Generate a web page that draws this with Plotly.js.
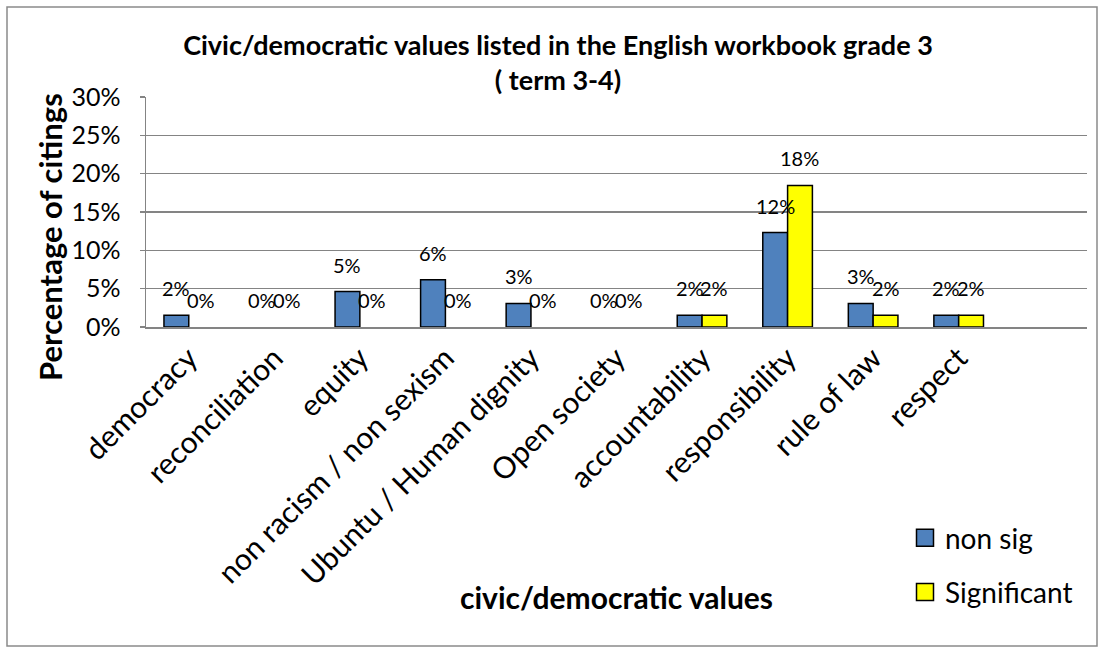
<!DOCTYPE html>
<html>
<head>
<meta charset="utf-8">
<script src="https://cdn.plot.ly/plotly-3.0.1.min.js"></script>
<style>
  html, body { margin: 0; padding: 0; background: #ffffff; }
  #chart { width: 1101px; height: 653px; }
</style>
</head>
<body>
<div id="chart"></div>
<script>
// ---- data ----
const categories = ['democracy', 'reconciliation', 'equity', 'non racism / non sexism',
  'Ubuntu / Human dignity', 'Open society', 'accountability', 'responsibility',
  'rule of law', 'respect'];
const nonSig = [0.0154, 0, 0.0462, 0.0615, 0.0308, 0, 0.0154, 0.1231, 0.0308, 0.0154];
const significant = [0, 0, 0, 0, 0, 0, 0.0154, 0.1846, 0.0154, 0.0154];
const seriesNames = ['non sig', 'Significant'];
const yTickVals = [0, 0.05, 0.10, 0.15, 0.20, 0.25, 0.30];
const yTickText = ['0%', '5%', '10%', '15%', '20%', '25%', '30%'];
const titleText = 'Civic/democratic values listed in the English workbook grade 3<br>( term 3-4)';
const xTitleText = 'civic/democratic values';
const yTitleText = 'Percentage of citings';

// ---- styling ----
const FONT = 'Lato, Carlito, "Open Sans", sans-serif';
const W = 1101, H = 653;
const margin = {l: 146, r: 14, t: 97, b: 326};
const bargap = 0.42;
const nSlots = categories.length + 1;          // one empty slot on the right, like the original
const plotW = W - margin.l - margin.r;
const plotH = H - margin.t - margin.b;
const barW = plotW / nSlots * (1 - bargap) / 2;
const gridColor = '#848484';

const colors = ['#4F81BD', '#FFFF00'];
const seriesVals = [nonSig, significant];

const traces = seriesVals.map((vals, i) => ({
  type: 'bar',
  name: seriesNames[i],
  legendgroup: 'g' + i,
  x: categories,
  y: vals,
  marker: {
    color: colors[i],
    line: {color: '#000000', width: vals.map(v => (v > 0 ? 1.5 : 0))}
  },
  hoverinfo: 'x+y'
}));

// data labels, placed over each bar through the axes
const annotations = [];
seriesVals.forEach((vals, i) => {
  vals.forEach((v, k) => {
    annotations.push({
      xref: 'x', yref: 'y', x: categories[k], y: v,
      xshift: (i === 0 ? -1 : 1) * barW / 2,
      yshift: 13,
      yanchor: 'bottom', xanchor: 'center',
      text: Math.round(v * 100) + '%',
      showarrow: false,
      font: {family: FONT, size: 20, color: '#000000'}
    });
  });
});

// axis titles
annotations.push({
  xref: 'paper', yref: 'paper', x: (50 - margin.l) / plotW, y: (327 - 237) / plotH,
  xanchor: 'center', yanchor: 'middle', textangle: -90, showarrow: false,
  text: '<b>' + yTitleText + '</b>',
  font: {family: FONT, size: 31, color: '#000000'}
});
annotations.push({
  xref: 'paper', yref: 'paper', x: 0.5, y: (327 - 597) / plotH,
  xanchor: 'center', yanchor: 'middle', showarrow: false,
  text: '<b>' + xTitleText + '</b>',
  font: {family: FONT, size: 30, color: '#000000'}
});

const layout = {
  width: W, height: H,
  margin: margin,
  paper_bgcolor: '#ffffff', plot_bgcolor: '#ffffff',
  font: {family: FONT, color: '#000000'},
  title: {
    text: '<b>' + titleText + '</b>',
    font: {family: FONT, size: 27, color: '#000000'},
    xref: 'container', x: 558 / W, xanchor: 'center',
    yref: 'container', y: 1 - 55 / H, yanchor: 'top'
  },
  barmode: 'group', bargap: bargap, bargroupgap: 0,
  xaxis: {
    type: 'category',
    range: [-0.5, nSlots - 0.5],
    tickangle: -45,
    tickfont: {family: FONT, size: 30, color: '#000000'},
    showline: true, linecolor: gridColor, linewidth: 1.5,
    showgrid: false, ticks: '', zeroline: false,
    automargin: false
  },
  yaxis: {
    range: [0, 0.30],
    tickvals: yTickVals, ticktext: yTickText,
    tickfont: {family: FONT, size: 25, color: '#000000'},
    showline: true, linecolor: gridColor, linewidth: 1.5,
    showgrid: true, gridcolor: gridColor, gridwidth: 1.5,
    ticks: 'outside', ticklen: 5, tickcolor: gridColor, tickwidth: 1.5,
    ticklabelstandoff: 14,
    zeroline: false, automargin: false
  },
  showlegend: true,
  legend: {
    x: (905 - margin.l) / plotW, xanchor: 'left',
    y: (327 - 513) / plotH, yanchor: 'top',
    font: {family: FONT, size: 28, color: '#000000'},
    bgcolor: 'rgba(0,0,0,0)',
    tracegroupgap: 15,
    itemwidth: 30
  },
  shapes: [{
    type: 'rect', xref: 'paper', yref: 'paper',
    x0: (7 - margin.l) / plotW, x1: (1097 - margin.l) / plotW,
    y0: (327 - 646) / plotH, y1: (327 - 7) / plotH,
    line: {color: '#8a8a8a', width: 1.5}, fillcolor: 'rgba(0,0,0,0)', layer: 'below'
  }],
  annotations: annotations
};

Plotly.newPlot('chart', traces, layout, {displayModeBar: false, staticPlot: true}).then(gd => {
  // legend swatches: larger squares with a black outline, as in the original
  gd.querySelectorAll('.legend .legendpoints path').forEach(p => {
    p.setAttribute('d', 'M8.5,8.5H-8.5V-8.5H8.5Z');
    p.style.stroke = '#000000';
    p.style.strokeWidth = '1.5px';
  });
});
</script>
</body>
</html>
